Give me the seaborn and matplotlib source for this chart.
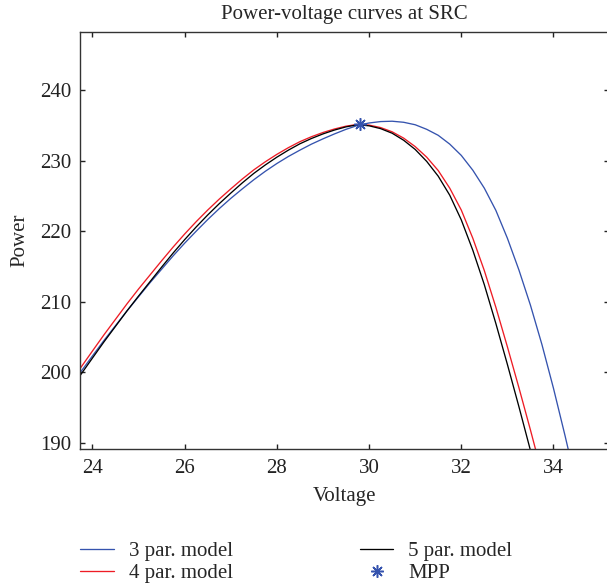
import matplotlib
matplotlib.use("Agg")
import matplotlib.pyplot as plt
import seaborn as sns
import pandas as pd

# ---- data (voltage, power) ----
v_3par = [23.73, 24.0, 24.25, 24.5, 24.75, 25.0, 25.25, 25.5, 25.75, 26.0, 26.25, 26.5, 26.75,
          27.0, 27.25, 27.5, 27.75, 28.0, 28.25, 28.5, 28.75, 29.0, 29.25, 29.5, 29.75, 30.0,
          30.25, 30.5, 30.75, 31.0, 31.25, 31.5, 31.75, 32.0, 32.25, 32.5, 32.75, 33.0, 33.25,
          33.5, 33.75, 34.0, 34.25, 34.5]
p_3par = [199.9, 202.3, 204.5, 206.6, 208.7, 210.7, 212.7, 214.6, 216.5, 218.3, 220.0, 221.65, 223.2,
          224.65, 226.0, 227.3, 228.5, 229.6, 230.6, 231.5, 232.35, 233.1, 233.8, 234.45, 235.0, 235.35,
          235.55, 235.6, 235.45, 235.1, 234.45, 233.6, 232.35, 230.75, 228.65, 226.1, 222.95, 219.0, 214.5,
          209.5, 203.9, 197.7, 191.0, 184.0]

v_4par = [23.73, 24.0, 24.25, 24.5, 24.75, 25.0, 25.25, 25.5, 25.75, 26.0, 26.25, 26.5, 26.75,
          27.0, 27.25, 27.5, 27.75, 28.0, 28.25, 28.5, 28.75, 29.0, 29.25, 29.5, 29.75, 30.0,
          30.25, 30.5, 30.75, 31.0, 31.25, 31.5, 31.75, 32.0, 32.25, 32.5, 32.75, 33.0, 33.25,
          33.5, 33.75]
p_4par = [200.5, 203.0, 205.3, 207.5, 209.7, 211.8, 213.8, 215.8, 217.75, 219.6, 221.35, 223.0, 224.55,
          226.0, 227.4, 228.7, 229.85, 230.9, 231.85, 232.7, 233.4, 234.0, 234.5, 234.9, 235.15, 235.05,
          234.7, 234.1, 233.2, 232.0, 230.5, 228.6, 226.1, 223.0, 219.0, 214.4, 209.2, 203.6, 197.8,
          191.8, 185.6]

v_5par = [23.73, 24.0, 24.25, 24.5, 24.75, 25.0, 25.25, 25.5, 25.75, 26.0, 26.25, 26.5, 26.75,
          27.0, 27.25, 27.5, 27.75, 28.0, 28.25, 28.5, 28.75, 29.0, 29.25, 29.5, 29.75, 30.0,
          30.25, 30.5, 30.75, 31.0, 31.25, 31.5, 31.75, 32.0, 32.25, 32.5, 32.75, 33.0, 33.25,
          33.5, 33.75]
p_5par = [199.5, 202.0, 204.3, 206.5, 208.7, 210.8, 212.85, 214.9, 216.9, 218.8, 220.6, 222.3, 223.9,
          225.4, 226.85, 228.2, 229.4, 230.5, 231.5, 232.4, 233.15, 233.8, 234.35, 234.8, 235.1, 234.95,
          234.55, 233.9, 232.9, 231.6, 229.9, 227.8, 225.1, 221.6, 217.3, 212.4, 206.9, 201.1, 195.1,
          188.9, 182.6]

mpp_v = [29.8]
mpp_p = [235.2]

x_ticks = [24, 26, 28, 30, 32, 34]
y_ticks = [190, 200, 210, 220, 230, 240]

labels = ["3 par. model", "4 par. model", "5 par. model", "MPP"]
colors = ["#3553ae", "#ee1c25", "#000000"]

# ---- figure ----
sns.set_style("ticks")
plt.rcParams["font.family"] = ["Liberation Serif", "DejaVu Serif"]

fig = plt.figure(figsize=(6.07, 5.88), dpi=100)
ax = fig.add_axes([80 / 607, 1 - 449 / 588, 1.003 - 80 / 607, (449 - 31.7) / 588])

series = [(v_3par, p_3par), (v_4par, p_4par), (v_5par, p_5par)]
for (vx, py), lab, col in zip(series, labels[:3], colors):
    df = pd.DataFrame({"Voltage": vx, "Power": py})
    sns.lineplot(data=df, x="Voltage", y="Power", ax=ax, color=col, lw=0.95,
                 label=lab, sort=False, estimator=None)

sns.lineplot(x=mpp_v, y=mpp_p, ax=ax, color="#3553ae", marker=(8, 2, 0),
             markersize=9, markeredgewidth=1.1, markeredgecolor="#3553ae",
             linestyle="", label=labels[3])

ax.set_xlim(23.73, 35.2)
ax.set_ylim(189.1, 248.3)
ax.set_xticks(x_ticks)
ax.set_yticks(y_ticks)
ax.tick_params(direction="in", length=3.6, width=1.0, top=True, right=True,
               labelsize=15, colors="#222222")
ax.tick_params(axis="x", pad=7)
ax.tick_params(axis="y", pad=6)
for s in ax.spines.values():
    s.set_visible(True)
    s.set_linewidth(1.0)
    s.set_color("#333333")

ax.set_title("Power-voltage curves at SRC", fontsize=15, pad=9)
ax.set_xlabel("Voltage", fontsize=15, labelpad=7)
ax.set_ylabel("Power", fontsize=15, labelpad=8)

handles, labs = ax.get_legend_handles_labels()
ax.legend_.remove()
fig.legend(handles, labs, ncol=2, loc="upper left",
           bbox_to_anchor=(70 / 607, 1 - 531 / 588), frameon=False,
           fontsize=15, handlelength=1.6, handletextpad=0.72,
           columnspacing=6.1, labelspacing=0.12, borderpad=0)

fig.savefig("out.png", dpi=100)
